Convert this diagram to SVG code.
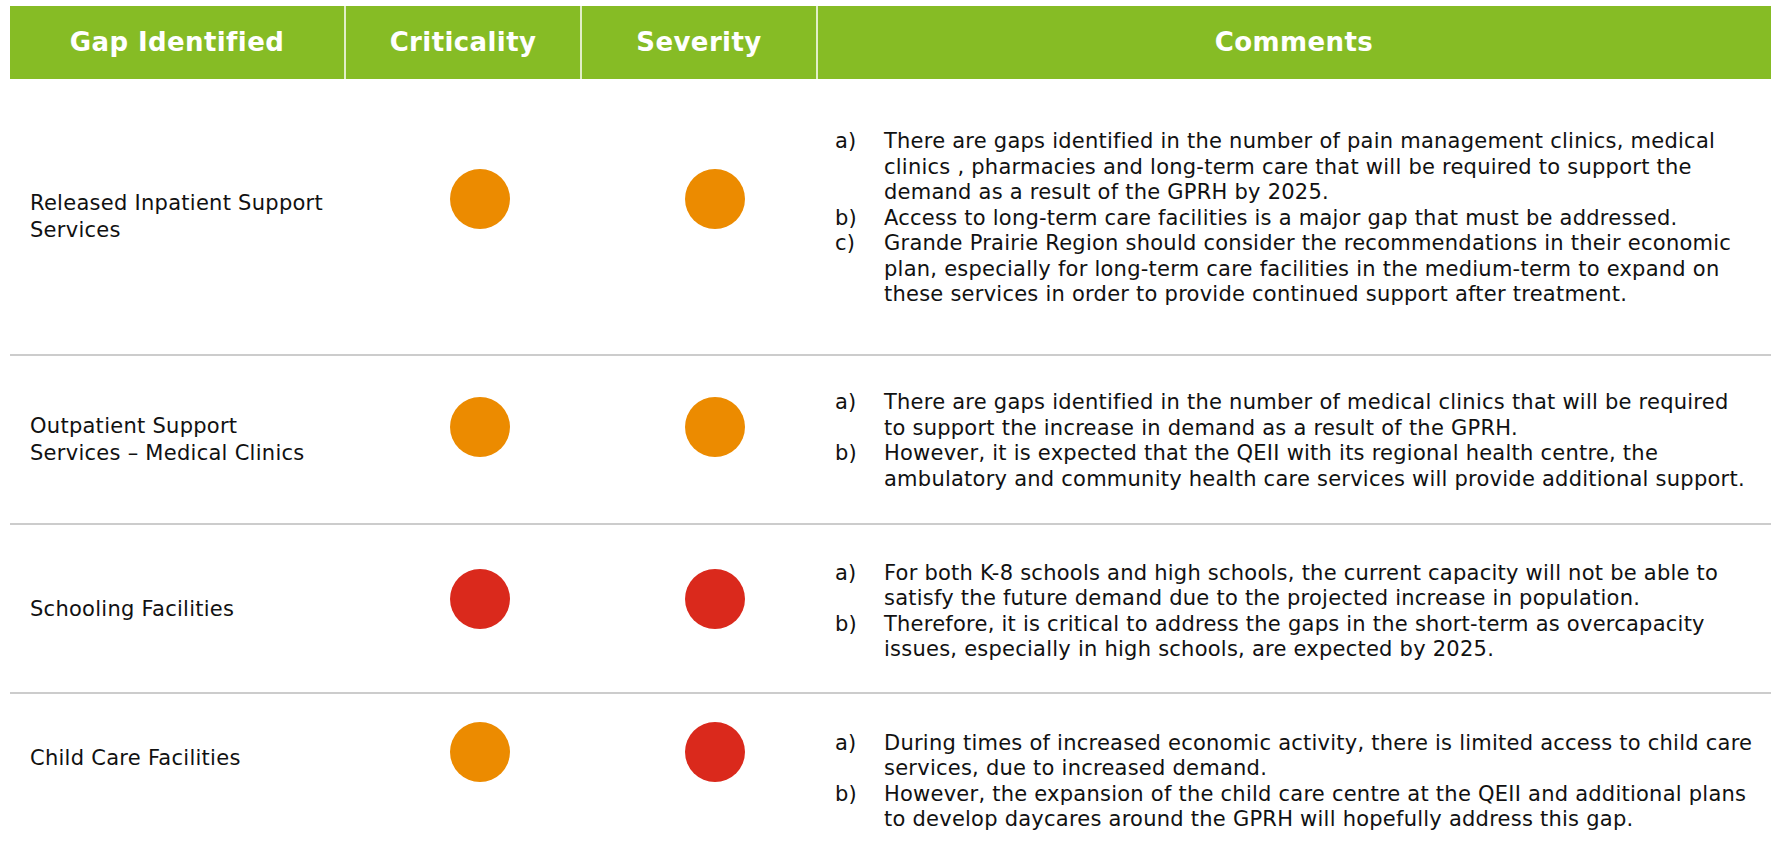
<svg xmlns="http://www.w3.org/2000/svg" width="1775" height="859" viewBox="0 0 1775 859">
<style>
.hd{font-family:"DejaVu Sans",Verdana,sans-serif;font-weight:bold;font-size:26px;letter-spacing:0.4px;fill:#fff;text-anchor:middle}
.lt{font-family:"DejaVu Sans",Verdana,sans-serif;font-size:21px;letter-spacing:0.27px;fill:#111}
.ct{font-family:"DejaVu Sans",Verdana,sans-serif;font-size:21px;letter-spacing:0.24px;fill:#111}
.sep{stroke:#cccccc;stroke-width:2}
.vs{stroke:#ffffff;stroke-width:1.5}
.or{fill:#EC8B00}
.rd{fill:#DA291C}
</style>
<g id="header">
<rect x="10" y="6" width="1761" height="73" fill="#86BC25"/>
<line class="vs" x1="345" y1="6" x2="345" y2="79"/>
<line class="vs" x1="581" y1="6" x2="581" y2="79"/>
<line class="vs" x1="817" y1="6" x2="817" y2="79"/>
<text class="hd" x="177" y="51">Gap Identified</text>
<text class="hd" x="463" y="51">Criticality</text>
<text class="hd" x="699" y="51">Severity</text>
<text class="hd" x="1294" y="51">Comments</text>
</g>
<g id="separators">
<line class="sep" x1="10" y1="355" x2="1771" y2="355"/>
<line class="sep" x1="10" y1="524" x2="1771" y2="524"/>
<line class="sep" x1="10" y1="693" x2="1771" y2="693"/>
</g>
<g id="row1">
<text class="lt" x="30" y="210">Released Inpatient Support</text>
<text class="lt" x="30" y="237">Services</text>
<circle class="or" cx="480" cy="199" r="30"/>
<circle class="or" cx="715" cy="199" r="30"/>
<g class="ct">
<text x="835" y="148">a)</text><text x="884" y="148">There are gaps identified in the number of pain management clinics, medical</text>
<text x="884" y="173.5">clinics , pharmacies and long-term care that will be required to support the</text>
<text x="884" y="199">demand as a result of the GPRH by 2025.</text>
<text x="835" y="224.5">b)</text><text x="884" y="224.5">Access to long-term care facilities is a major gap that must be addressed.</text>
<text x="835" y="250">c)</text><text x="884" y="250">Grande Prairie Region should consider the recommendations in their economic</text>
<text x="884" y="275.5">plan, especially for long-term care facilities in the medium-term to expand on</text>
<text x="884" y="301">these services in order to provide continued support after treatment.</text>
</g>
</g>
<g id="row2">
<text class="lt" x="30" y="433">Outpatient Support</text>
<text class="lt" x="30" y="460">Services – Medical Clinics</text>
<circle class="or" cx="480" cy="427" r="30"/>
<circle class="or" cx="715" cy="427" r="30"/>
<g class="ct">
<text x="835" y="409">a)</text><text x="884" y="409">There are gaps identified in the number of medical clinics that will be required</text>
<text x="884" y="434.5">to support the increase in demand as a result of the GPRH.</text>
<text x="835" y="460">b)</text><text x="884" y="460">However, it is expected that the QEII with its regional health centre, the</text>
<text x="884" y="485.5">ambulatory and community health care services will provide additional support.</text>
</g>
</g>
<g id="row3">
<text class="lt" x="30" y="616">Schooling Facilities</text>
<circle class="rd" cx="480" cy="599" r="30"/>
<circle class="rd" cx="715" cy="599" r="30"/>
<g class="ct">
<text x="835" y="579.5">a)</text><text x="884" y="579.5">For both K-8 schools and high schools, the current capacity will not be able to</text>
<text x="884" y="605">satisfy the future demand due to the projected increase in population.</text>
<text x="835" y="630.5">b)</text><text x="884" y="630.5">Therefore, it is critical to address the gaps in the short-term as overcapacity</text>
<text x="884" y="656">issues, especially in high schools, are expected by 2025.</text>
</g>
</g>
<g id="row4">
<text class="lt" x="30" y="765">Child Care Facilities</text>
<circle class="or" cx="480" cy="752" r="30"/>
<circle class="rd" cx="715" cy="752" r="30"/>
<g class="ct">
<text x="835" y="749.5">a)</text><text x="884" y="749.5">During times of increased economic activity, there is limited access to child care</text>
<text x="884" y="775">services, due to increased demand.</text>
<text x="835" y="800.5">b)</text><text x="884" y="800.5">However, the expansion of the child care centre at the QEII and additional plans</text>
<text x="884" y="826">to develop daycares around the GPRH will hopefully address this gap.</text>
</g>
</g>
</svg>
